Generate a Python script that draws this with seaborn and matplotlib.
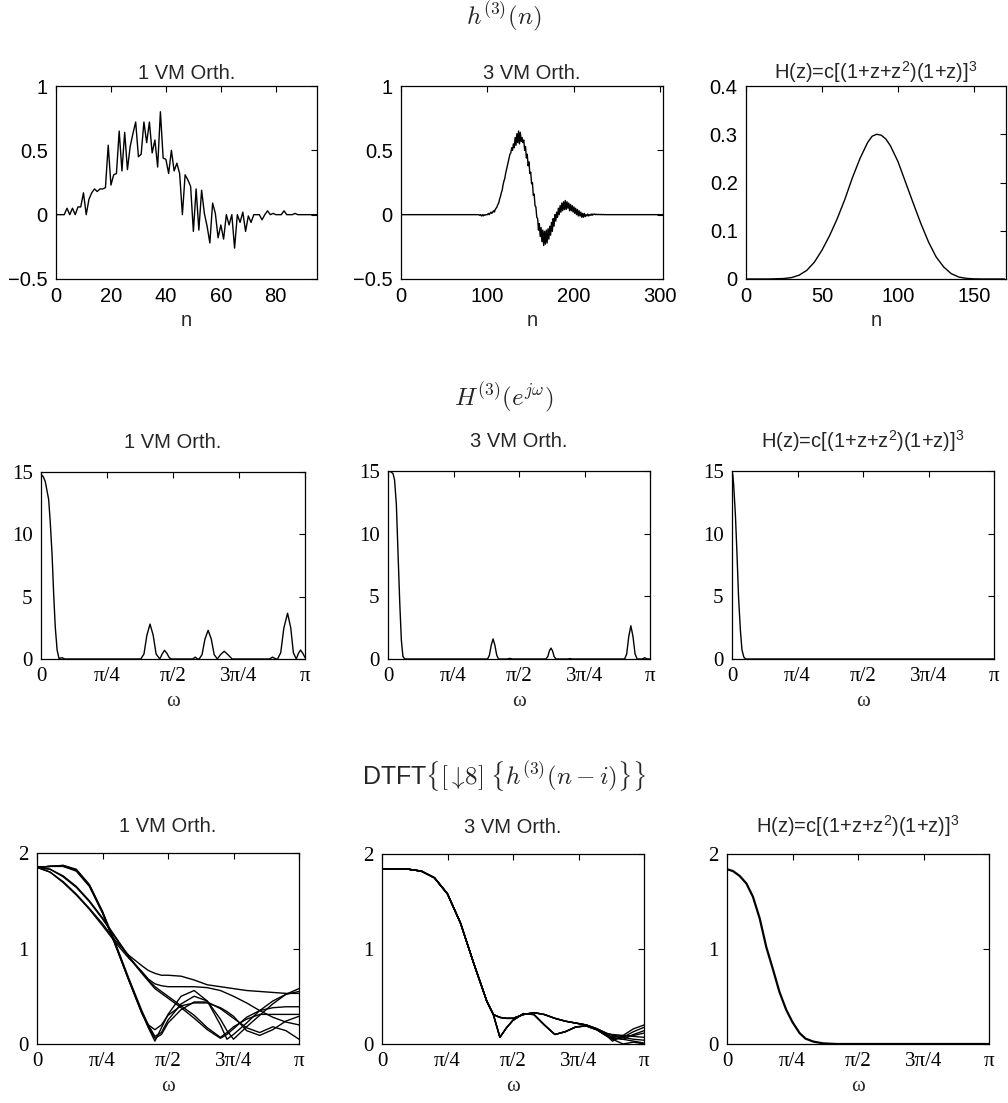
import numpy as np
import pandas as pd
import matplotlib
matplotlib.use("Agg")
import matplotlib.pyplot as plt
import seaborn as sns

# ---------------- data ----------------
# Row 1: h^(3)(n)
h1vm_n = list(range(0, 96))
h1vm = [0, 0, 0, 0, 0.05, 0, 0.05, 0, 0.06, 0.06,
        0.17, 0, 0.12, 0.17, 0.2, 0.18, 0.2, 0.2, 0.21, 0.54,
        0.23, 0.31, 0.32, 0.65, 0.34, 0.64, 0.35, 0.53, 0.63, 0.72,
        0.45, 0.47, 0.72, 0.56, 0.72, 0.48, 0.58, 0.37, 0.8, 0.44,
        0.43, 0.32, 0.5, 0.34, 0.4, 0.32, 0, 0.31, 0.27, 0.22,
        -0.13, 0.2, -0.12, 0.19, 0.01, -0.09, -0.22, 0.09, 0.01, -0.18,
        -0.08, -0.19, 0, -0.08, 0, -0.26, 0, -0.06, 0.02, -0.13,
        -0.01, -0.06, 0, 0, 0, -0.04, 0, 0.03, 0, 0.01,
        0, 0, 0, 0.03, 0, 0, 0, 0.01, 0, 0,
        0, 0, 0, 0, 0, 0]

h3vm_lead_zeros = [0.0] * 90          # n = 0..89 flat
h3vm_active = [                       # n = 90..239
    0, -0.005, 0, -0.01, 0, -0.01, 0.0, -0.005, 0.0, 0.0,
    0.0, 0.01, 0.0, 0.01, 0.02, 0.01, 0.02, 0.03, 0.02, 0.04,
    0.05, 0.06, 0.08, 0.09, 0.12, 0.14, 0.17, 0.19, 0.23, 0.26,
    0.28, 0.32, 0.35, 0.38, 0.41, 0.44, 0.47, 0.48, 0.52, 0.50,
    0.55, 0.52, 0.60, 0.54, 0.63, 0.56, 0.65, 0.55, 0.64, 0.57,
    0.60, 0.56, 0.58, 0.50, 0.53, 0.44, 0.47, 0.38, 0.41, 0.32,
    0.33, 0.24, 0.25, 0.15, 0.16, 0.07, 0.06, -0.02, -0.03, -0.12,
    -0.07, -0.17, -0.10, -0.21, -0.12, -0.24, -0.13, -0.23, -0.12, -0.22,
    -0.11, -0.19, -0.09, -0.16, -0.06, -0.13, -0.03, -0.09, 0.0, -0.05,
    0.02, -0.02, 0.05, 0.0, 0.07, 0.02, 0.09, 0.03, 0.10, 0.04,
    0.11, 0.04, 0.10, 0.05, 0.09, 0.03, 0.08, 0.03, 0.07, 0.02,
    0.06, 0.01, 0.05, 0.0, 0.04, -0.01, 0.03, -0.01, 0.02, -0.02,
    0.01, -0.02, 0.01, -0.015, 0.0, -0.01, 0.005, -0.01, 0.0, -0.005,
    0.005, -0.005, 0.005, 0.0, 0.005, 0.0, 0.003, 0.0, 0.003, 0.0,
    0.002, 0.0, 0.002, 0.0, 0.001, 0.0, 0.001, 0.0, 0.0, 0.0]
h3vm_tail_zeros = [0.0] * 64          # n = 240..303 flat

hbell_n = [0, 5, 10, 15, 20, 25, 30, 35, 40, 45, 50, 55, 60, 65, 70, 75, 80, 83, 86,
           89, 92, 95, 100, 105, 110, 115, 120, 125, 130, 135, 140, 145, 150, 155,
           160, 165, 170]
hbell = [0, 0, 0, 0, 0.0005, 0.001, 0.003, 0.008, 0.018, 0.035,
         0.06, 0.09, 0.125, 0.165, 0.21, 0.25, 0.283, 0.296, 0.3,
         0.298, 0.29, 0.276, 0.243, 0.2, 0.157, 0.115, 0.077, 0.046, 0.025, 0.011,
         0.004, 0.0013, 0.0003, 0, 0, 0, 0]

# Row 2: |H^(3)(e^jw)|, w in units of pi
r2_1vm_w = [0, 0.008, 0.016, 0.029, 0.035, 0.042, 0.048, 0.054, 0.061, 0.068, 0.08, 0.09, 0.1,
            0.378, 0.39, 0.401, 0.413, 0.425, 0.436, 0.45, 0.459, 0.468, 0.477, 0.486, 0.494,
            0.575, 0.584, 0.593,
            0.599, 0.61, 0.621, 0.633, 0.645, 0.656, 0.668, 0.68, 0.694, 0.708, 0.724,
            0.865, 0.877, 0.89,
            0.896, 0.908, 0.92, 0.934, 0.946, 0.956, 0.967, 0.975, 0.983, 0.992, 1.0]
r2_1vm_v = [14.78, 14.65, 14.25, 12.8, 11.0, 8.35, 5.2, 2.57, 0.73, 0.05, 0.1, 0.0, 0.0,
            0, 0.4, 1.9, 2.8, 1.9, 0.4, 0, 0.4, 0.7, 0.45, 0.1, 0,
            0, 0.15, 0,
            0, 0.35, 1.6, 2.3, 1.6, 0.35, 0, 0.35, 0.62, 0.35, 0,
            0, 0.15, 0,
            0, 0.5, 2.5, 3.67, 2.5, 0.5, 0, 0.45, 0.72, 0.45, 0.12]

r2_3vm_w = [0, 0.01, 0.019, 0.025, 0.032, 0.038, 0.045, 0.051, 0.057, 0.064,
            0.38, 0.387, 0.394, 0.401, 0.408, 0.415, 0.422,
            0.455, 0.465, 0.475,
            0.603, 0.61, 0.616, 0.622, 0.628, 0.634, 0.641,
            0.685, 0.694, 0.703,
            0.903, 0.911, 0.919, 0.927, 0.935, 0.943, 0.951,
            0.97, 0.98, 0.99, 1.0]
r2_3vm_v = [14.95, 14.95, 14.8, 14.3, 12.3, 8.6, 4.4, 1.5, 0.2, 0,
            0, 0.3, 1.1, 1.6, 1.1, 0.3, 0,
            0, 0.05, 0,
            0, 0.2, 0.65, 0.87, 0.65, 0.2, 0,
            0, 0.03, 0,
            0, 0.4, 1.8, 2.65, 1.8, 0.4, 0,
            0, 0.1, 0, 0]

r2_h_w = [0, 0.003, 0.006, 0.013, 0.019, 0.025, 0.032, 0.038, 0.045, 0.052, 1.0]
r2_h_v = [14.95, 14.7, 14.0, 11.5, 8.4, 4.95, 2.3, 0.74, 0.16, 0, 0]

# Row 3: DTFT of polyphase components, w in units of pi
r3_1vm_w = [0, .05, .1, .15, .2, .25, .3, .35, .4, .425, .45, .475, .5, .55, .6, .65,
            .7, .725, .75, .8, .85, .9, .95, 1.0]
r3_1vm_c0 = [1.85, 1.86, 1.87, 1.82, 1.66, 1.38, 1.04, 0.68, 0.33, 0.17, 0.03, 0.17, 0.31,
             0.50, 0.56, 0.45, 0.2, 0.05, 0.1, 0.22, 0.35, 0.45, 0.52, 0.55]
r3_1vm_c1 = [1.85, 1.86, 1.87, 1.83, 1.67, 1.39, 1.05, 0.69, 0.35, 0.2, 0.08, 0.12, 0.25,
             0.42, 0.5, 0.45, 0.26, 0.14, 0.05, 0.18, 0.3, 0.42, 0.52, 0.58]
r3_1vm_c2 = [1.85, 1.86, 1.86, 1.81, 1.65, 1.37, 1.03, 0.67, 0.32, 0.2, 0.15, 0.2, 0.3,
             0.4, 0.43, 0.43, 0.38, 0.34, 0.29, 0.14, 0.09, 0.15, 0.24, 0.29]
r3_1vm_c3 = [1.85, 1.86, 1.86, 1.82, 1.66, 1.38, 1.03, 0.67, 0.33, 0.18, 0.06, 0.1, 0.22,
             0.36, 0.44, 0.44, 0.37, 0.32, 0.27, 0.17, 0.12, 0.18, 0.14, 0.05]
r3_1vm_c4 = [1.85, 1.83, 1.76, 1.65, 1.50, 1.32, 1.12, 0.92, 0.75, 0.67, 0.60, 0.55, 0.5,
             0.4, 0.3, 0.17, 0.07, 0.12, 0.18, 0.26, 0.31, 0.31, 0.31, 0.31]
r3_1vm_c5 = [1.85, 1.83, 1.75, 1.64, 1.49, 1.31, 1.11, 0.91, 0.74, 0.66, 0.58, 0.53, 0.48,
             0.38, 0.27, 0.15, 0.06, 0.1, 0.16, 0.28, 0.35, 0.38, 0.39, 0.39]
r3_1vm_c6 = [1.85, 1.80, 1.70, 1.57, 1.42, 1.26, 1.08, 0.93, 0.82, 0.77, 0.74, 0.72, 0.72,
             0.71, 0.67, 0.62, 0.6, 0.59, 0.58, 0.56, 0.55, 0.54, 0.53, 0.53]
r3_1vm_c7 = [1.85, 1.80, 1.69, 1.56, 1.41, 1.24, 1.06, 0.90, 0.76, 0.68, 0.63, 0.61, 0.6,
             0.6, 0.6, 0.59, 0.56, 0.53, 0.5, 0.43, 0.35, 0.28, 0.23, 0.2]

r3_3vm_w = [0, .05, .1, .15, .2, .25, .3, .35, .4, .425, .45, .475, .5, .54, .58, .62,
            .66, .7, .74, .78, .82, .86, .88, .92, .96, 1.0]
r3_3vm_c0 = [1.84, 1.84, 1.84, 1.82, 1.75, 1.58, 1.27, 0.85, 0.45, 0.31, 0.07, 0.17, 0.25,
             0.32, 0.31, 0.2, 0.1, 0.13, 0.18, 0.19, 0.15, 0.08, 0.03, 0.09, 0.16, 0.2]
r3_3vm_c1 = [1.84, 1.84, 1.84, 1.82, 1.75, 1.58, 1.27, 0.85, 0.45, 0.31, 0.07, 0.17, 0.25,
             0.32, 0.31, 0.2, 0.1, 0.13, 0.18, 0.19, 0.15, 0.08, 0.05, 0.07, 0.13, 0.175]
r3_3vm_c2 = [1.84, 1.84, 1.84, 1.82, 1.75, 1.58, 1.27, 0.85, 0.45, 0.31, 0.07, 0.17, 0.25,
             0.32, 0.31, 0.2, 0.1, 0.13, 0.18, 0.19, 0.15, 0.08, 0.07, 0.05, 0.03, 0.01]
r3_3vm_c3 = [1.84, 1.84, 1.84, 1.82, 1.75, 1.58, 1.27, 0.85, 0.45, 0.31, 0.07, 0.17, 0.25,
             0.32, 0.31, 0.2, 0.1, 0.13, 0.18, 0.19, 0.15, 0.09, 0.08, 0.07, 0.05, 0.04]
r3_3vm_c4 = [1.84, 1.84, 1.84, 1.82, 1.75, 1.58, 1.27, 0.85, 0.45, 0.31, 0.28, 0.27, 0.27,
             0.31, 0.33, 0.31, 0.27, 0.24, 0.22, 0.2, 0.16, 0.1, 0.06, 0.05, 0.1, 0.14]
r3_3vm_c5 = [1.84, 1.84, 1.84, 1.82, 1.75, 1.58, 1.27, 0.85, 0.45, 0.31, 0.28, 0.27, 0.27,
             0.31, 0.33, 0.31, 0.27, 0.24, 0.22, 0.2, 0.16, 0.11, 0.09, 0.08, 0.09, 0.115]
r3_3vm_c6 = [1.84, 1.84, 1.84, 1.82, 1.75, 1.58, 1.27, 0.85, 0.45, 0.31, 0.28, 0.27, 0.27,
             0.31, 0.33, 0.31, 0.27, 0.24, 0.22, 0.2, 0.16, 0.1, 0.05, 0.0, 0.02, 0.0]
r3_3vm_c7 = [1.84, 1.84, 1.84, 1.82, 1.75, 1.58, 1.27, 0.85, 0.45, 0.31, 0.28, 0.27, 0.27,
             0.31, 0.33, 0.31, 0.27, 0.24, 0.22, 0.2, 0.16, 0.11, 0.1, 0.09, 0.08, 0.07]

r3_h_w = [0, 0.023, 0.048, 0.074, 0.099, 0.125, 0.15, 0.176, 0.2, 0.226, 0.25, 0.277,
          0.3, 0.33, 0.366, 0.417, 1.0]
r3_h_v = [1.84, 1.82, 1.77, 1.69, 1.55, 1.32, 1.02, 0.78, 0.55, 0.36, 0.23, 0.115,
          0.056, 0.025, 0.007, 0.0, 0.0]

col_titles = ["1 VM Orth.", "3 VM Orth.", r"H(z)=c[(1+z+z$^2$)(1+z)]$^3$"]
row_titles = [r"$h^{(3)}(n)$", r"$H^{(3)}(e^{j\omega})$",
              r"DTFT$\left\{[\downarrow\!8]\;\left\{h^{(3)}(n-i)\right\}\right\}$"]
pi_ticks = [0, 0.25, 0.5, 0.75, 1.0]
pi_labels = ["0", "π/4", "π/2", "3π/4", "π"]

# ---------------- style ----------------
sns.set_style("white")
plt.rcParams["font.family"] = ["Liberation Sans", "DejaVu Sans"]
plt.rcParams["mathtext.fontset"] = "custom"
plt.rcParams["mathtext.rm"] = "Liberation Sans"
plt.rcParams["mathtext.it"] = "Liberation Sans:italic"
plt.rcParams["mathtext.bf"] = "Liberation Sans:bold"
plt.rcParams["axes.unicode_minus"] = True

SANS = ["Liberation Sans", "DejaVu Sans"]
SERIF = ["Liberation Serif", "DejaVu Serif"]
FS = 14.5
W, H = 1008, 1103
fig = plt.figure(figsize=(W / 100, H / 100), dpi=100)


def add_ax(l, r, t, b):
    return fig.add_axes([l / W, 1 - b / H, (r - l) / W, (b - t) / H])


def style(ax):
    for s in ax.spines.values():
        s.set_visible(True)
        s.set_color("black")
        s.set_linewidth(0.9)
    ax.tick_params(direction="in", top=True, right=True, length=4, width=0.8,
                   colors="black", pad=6)


LW = 1.0
K = "black"

# ---------------- row 1 ----------------
row1_boxes = [(56, 317, 86, 279), (401, 663, 86, 279), (746, 1006, 86, 279)]
ax = add_ax(*row1_boxes[0])
sns.lineplot(x=h1vm_n, y=h1vm, ax=ax, color=K, linewidth=LW, errorbar=None)
ax.set_xlim(0, 95); ax.set_ylim(-0.5, 1)
ax.set_xticks([0, 20, 40, 60, 80]); ax.set_yticks([-0.5, 0, 0.5, 1])
ax.set_yticklabels(["\u22120.5", "0", "0.5", "1"])

ax2 = add_ax(*row1_boxes[1])
h3vm = h3vm_lead_zeros + h3vm_active + h3vm_tail_zeros
sns.lineplot(x=list(range(len(h3vm))), y=h3vm, ax=ax2, color=K, linewidth=LW, errorbar=None)
ax2.set_xlim(0, 303); ax2.set_ylim(-0.5, 1)
ax2.set_xticks([0, 100, 200, 300]); ax2.set_yticks([-0.5, 0, 0.5, 1])
ax2.set_yticklabels(["\u22120.5", "0", "0.5", "1"])

ax3 = add_ax(*row1_boxes[2])
sns.lineplot(x=hbell_n, y=hbell, ax=ax3, color=K, linewidth=LW, errorbar=None)
ax3.set_xlim(0, 171); ax3.set_ylim(0, 0.4)
ax3.set_xticks([0, 50, 100, 150]); ax3.set_yticks([0, 0.1, 0.2, 0.3, 0.4])
ax3.set_yticklabels(["0", "0.1", "0.2", "0.3", "0.4"])

for a, t in zip([ax, ax2, ax3], col_titles):
    style(a)
    a.set_title(t, fontsize=FS, pad=5, family=SANS)
    a.set_xlabel("n", fontsize=FS, labelpad=3, family=SANS)
    a.set_ylabel("")
    for lab in a.get_xticklabels() + a.get_yticklabels():
        lab.set_fontsize(FS)
        lab.set_family(SANS)


def pi_axis(a, ylim, yticks, title, pad):
    style(a)
    a.set_xlim(0, np.pi)
    a.set_ylim(*ylim)
    a.set_xticks([v * np.pi for v in pi_ticks])
    a.set_xticklabels(pi_labels, fontsize=15, family=SERIF)
    a.set_yticks(yticks)
    a.set_yticklabels([str(v) for v in yticks], fontsize=15, family=SERIF)
    a.set_title(title, fontsize=FS, pad=pad, family=SANS)
    a.set_xlabel("ω", fontsize=15, labelpad=4, family=SERIF)
    a.set_ylabel("")


# ---------------- row 2 ----------------
row2_boxes = [(41, 305, 472, 659), (388, 650, 471, 659), (732, 994, 471, 659)]
row2_data = [(r2_1vm_w, r2_1vm_v), (r2_3vm_w, r2_3vm_v), (r2_h_w, r2_h_v)]
for box, (wv, vv), t in zip(row2_boxes, row2_data, col_titles):
    a = add_ax(*box)
    sns.lineplot(x=[w * np.pi for w in wv], y=vv, ax=a, color=K, linewidth=LW,
                 errorbar=None, sort=False)
    pi_axis(a, (0, 15), [0, 5, 10, 15], t, 17)

# ---------------- row 3 ----------------
row3_boxes = [(37, 299, 853, 1044), (382, 644, 854, 1044), (727, 989, 854, 1044)]
c1 = [r3_1vm_c0, r3_1vm_c1, r3_1vm_c2, r3_1vm_c3, r3_1vm_c4, r3_1vm_c5, r3_1vm_c6, r3_1vm_c7]
c3 = [r3_3vm_c0, r3_3vm_c1, r3_3vm_c2, r3_3vm_c3, r3_3vm_c4, r3_3vm_c5, r3_3vm_c6, r3_3vm_c7]


def long_df(wgrid, curves):
    rows = []
    for i, c in enumerate(curves):
        for w, v in zip(wgrid, c):
            rows.append({"w": w * np.pi, "v": v, "i": i})
    return pd.DataFrame(rows)


a = add_ax(*row3_boxes[0])
sns.lineplot(data=long_df(r3_1vm_w, c1), x="w", y="v", units="i", estimator=None,
             ax=a, color=K, linewidth=LW)
pi_axis(a, (0, 2), [0, 1, 2], col_titles[0], 15)

a = add_ax(*row3_boxes[1])
sns.lineplot(data=long_df(r3_3vm_w, c3), x="w", y="v", units="i", estimator=None,
             ax=a, color=K, linewidth=LW)
pi_axis(a, (0, 2), [0, 1, 2], col_titles[1], 15)

a = add_ax(*row3_boxes[2])
sns.lineplot(x=[w * np.pi for w in r3_h_w], y=r3_h_v, ax=a, color=K, linewidth=1.6,
             errorbar=None)
pi_axis(a, (0, 2), [0, 1, 2], col_titles[2], 15)

# ---------------- row headings ----------------
for y, s in zip([17, 398, 777], row_titles):
    fig.text(0.5, 1 - y / H, s, ha="center", va="center", fontsize=18,
             math_fontfamily="cm", family=SANS)

fig.savefig("out.png", dpi=100, facecolor="white")
